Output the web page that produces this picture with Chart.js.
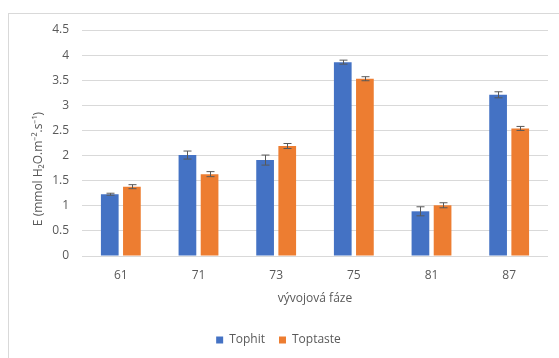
<!DOCTYPE html>
<html>
<head>
<meta charset="utf-8">
<script src="https://cdn.jsdelivr.net/npm/chart.js@4/dist/chart.umd.min.js"></script>
<style>
  body { margin: 0; background: #fff; }
  #wrap { position: relative; width: 559px; height: 358px; overflow: hidden; }
  #frame { position: absolute; left: 8px; top: 13px; width: 700px; height: 500px; border: 1px solid #d9d9d9; }
  canvas { position: absolute; left: 0; top: 0; }
</style>
</head>
<body>
<div id="wrap">
  <div id="frame"></div>
  <canvas id="graf" width="559" height="358"></canvas>
</div>
<script>
// data
var faze = ['61', '71', '73', '75', '81', '87'];
var tophit = [1.23, 2.01, 1.91, 3.86, 0.89, 3.21];
var tophitChyba = [0.02, 0.08, 0.10, 0.04, 0.09, 0.06];
var toptaste = [1.38, 1.63, 2.19, 3.53, 1.01, 2.54];
var toptasteChyba = [0.04, 0.05, 0.05, 0.04, 0.05, 0.04];
var yTicks = [0, 0.5, 1, 1.5, 2, 2.5, 3, 3.5, 4, 4.5];
var yNazev = 'E (mmol H₂O.m⁻².s⁻¹)';

var sedy = '#595959';
var pismo = { family: "'Open Sans', sans-serif", size: 12 };

// chybove usecky, kresli se pres osy grafu
var errorBars = {
  id: 'errorBars',
  afterDatasetsDraw: function(chart){
    var ctx = chart.ctx;
    var y = chart.scales.y;
    ctx.save();
    ctx.strokeStyle = sedy;
    ctx.lineWidth = 1;
    chart.data.datasets.forEach(function(ds, i){
      var meta = chart.getDatasetMeta(i);
      meta.data.forEach(function(bar, j){
        var v = ds.data[j], e = ds.chyba[j];
        var x = Math.round(bar.x) + 0.5;
        var y1 = y.getPixelForValue(v + e);
        var y2 = y.getPixelForValue(v - e);
        ctx.beginPath();
        ctx.moveTo(x, y1); ctx.lineTo(x, y2);
        ctx.moveTo(x - 4, y1); ctx.lineTo(x + 4, y1);
        ctx.moveTo(x - 4, y2); ctx.lineTo(x + 4, y2);
        ctx.stroke();
      });
    });
    ctx.restore();
  }
};

// nazev osy y, v originale je posunuty dolu
var yTitulek = {
  id: 'yTitulek',
  afterDraw: function(chart){
    var ctx = chart.ctx;
    var a = chart.chartArea;
    ctx.save();
    ctx.translate(a.left - 43, (a.top + a.bottom) / 2 + 26);
    ctx.rotate(-Math.PI / 2);
    ctx.fillStyle = sedy;
    ctx.font = "12px 'Open Sans', sans-serif";
    ctx.textAlign = 'center';
    ctx.textBaseline = 'middle';
    ctx.fillText(yNazev, 0, 0);
    ctx.restore();
  }
};

var ctx = document.getElementById('graf');
var graf = new Chart(ctx, {
  type: 'bar',
  data: {
    labels: faze,
    datasets: [{
      label: 'Tophit',
      data: tophit,
      chyba: tophitChyba,
      backgroundColor: '#4472C4',
      categoryPercentage: 0.57,
      barPercentage: 0.8
    },{
      label: 'Toptaste',
      data: toptaste,
      chyba: toptasteChyba,
      backgroundColor: '#ED7D31',
      categoryPercentage: 0.57,
      barPercentage: 0.8
    }]
  },
  options: {
    responsive: false,
    animation: false,
    layout: { padding: { left: 9, right: 11, top: 30, bottom: 2 } },
    plugins: {
      tooltip: { enabled: false },
      legend: {
        position: 'bottom',
        labels: { boxWidth: 7, boxHeight: 7, color: sedy, font: pismo, padding: 14 }
      }
    },
    scales: {
      x: {
        grid: { display: false },
        border: { display: false },
        ticks: { color: sedy, font: pismo, padding: 4 },
        title: { display: true, text: 'vývojová fáze', color: sedy, font: pismo, padding: { top: 4, bottom: 14 } },
        afterFit: function(s){ s.height = 64; }
      },
      y: {
        min: 0,
        max: 4.5,
        afterBuildTicks: function(s){ s.ticks = yTicks.map(function(v){ return { value: v }; }); },
        grid: { color: '#d9d9d9', drawTicks: false },
        border: { display: false },
        ticks: { color: sedy, font: pismo, padding: 13, callback: function(v){ return String(v); } },
        afterFit: function(s){ s.width = 73; }
      }
    }
  },
  plugins: [errorBars, yTitulek]
});
</script>
</body>
</html>
